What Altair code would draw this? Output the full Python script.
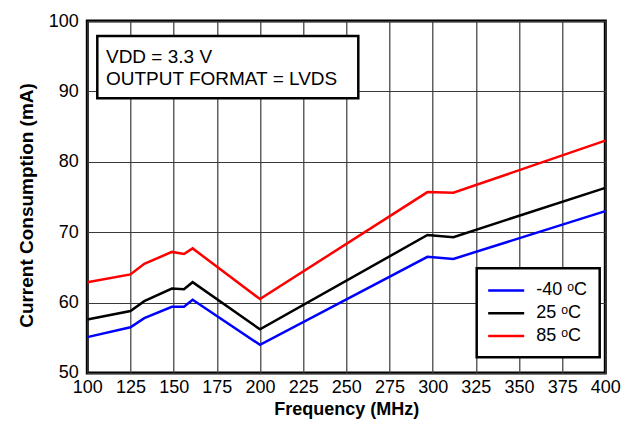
import altair as alt
import pandas as pd

# ---- data ----
freq = [100, 125, 133, 149, 156, 161, 200, 297, 312, 400]
i_m40 = [55.1, 56.5, 57.8, 59.4, 59.4, 60.4, 54.0, 66.5, 66.2, 73.0]
i_25 = [57.6, 58.8, 60.2, 62.0, 61.9, 62.9, 56.2, 69.6, 69.3, 76.3]
i_85 = [62.9, 64.0, 65.5, 67.2, 66.9, 67.7, 60.5, 75.7, 75.6, 83.0]
series_labels = ["-40 \u1d52C", "\u200825 \u1d52C", "\u200885 \u1d52C"]
series_colors = ["#0000ff", "#000000", "#ff0000"]
x_ticks = [100, 125, 150, 175, 200, 225, 250, 275, 300, 325, 350, 375, 400]
y_ticks = [50, 60, 70, 80, 90, 100]
note_lines = ["VDD = 3.3 V", "OUTPUT FORMAT = LVDS"]

rows = []
for lab, vals in zip(series_labels, [i_m40, i_25, i_85]):
    for f, v in zip(freq, vals):
        rows.append({"freq": f, "current": v, "temp": lab})
df = pd.DataFrame(rows)

FONT = "Liberation Sans"

lines = alt.Chart(df).mark_line(strokeWidth=2.5, clip=True).encode(
    x=alt.X("freq:Q",
            scale=alt.Scale(domain=[100, 400], nice=False, zero=False),
            axis=alt.Axis(values=x_ticks, title="Frequency (MHz)",
                          labelPadding=5.5, labelOverlap=False, labelFlush=False,
                          titleBaseline="alphabetic", titleY=42,
                          titleFontSize=18)),
    y=alt.Y("current:Q",
            scale=alt.Scale(domain=[50, 100], nice=False, zero=False),
            axis=alt.Axis(values=y_ticks, title="Current Consumption (mA)",
                          labelPadding=9, titlePadding=12, labelFlush=False,
                          labelOverlap=False, titleY=184)),
    color=alt.Color("temp:N",
                    scale=alt.Scale(domain=series_labels, range=series_colors),
                    sort=series_labels,
                    legend=alt.Legend(title=None, orient="none",
                                      legendX=389.4, legendY=247.3,
                                      fillColor="white", strokeColor="black",
                                      padding=11.7, rowPadding=2.7,
                                      symbolType="M-1.19,0H2.81",
                                      symbolSize=324, symbolStrokeWidth=2.5,
                                      labelFont=FONT, labelFontSize=18,
                                      labelOffset=26.9, labelColor="black")),
)

one = pd.DataFrame({"k": [0]})
box = alt.Chart(one).mark_rect(fill="white", stroke="black", strokeWidth=2.5).encode(
    x=alt.value(10), x2=alt.value(271), y=alt.value(15), y2=alt.value(77.3)
)
note = alt.Chart(one).mark_text(
    align="left", baseline="alphabetic", font=FONT, fontSize=19,
    lineBreak="\n", lineHeight=21.7, color="black",
    text="\n".join(note_lines),
).encode(x=alt.value(18.7), y=alt.value(42.3))

chart = alt.layer(lines, box, note).properties(
    width=518, height=352,
    autosize=alt.AutoSizeParams(type="none"),
    padding={"left": 79.3, "top": 13, "right": 19, "bottom": 46},
    background="white",
).configure_view(
    stroke="black", strokeWidth=3
).configure_axis(
    labelFont=FONT, labelFontSize=18, labelColor="black",
    titleFont=FONT, titleFontSize=19, titleFontWeight="bold", titleColor="black",
    grid=True, gridColor="#3a3a3a", gridWidth=1.2, gridOpacity=1,
    domain=False, ticks=False,
).configure_legend(
    strokeWidth=2.5
)

chart.save("out.html", embed_options={"renderer": "svg", "actions": False})
